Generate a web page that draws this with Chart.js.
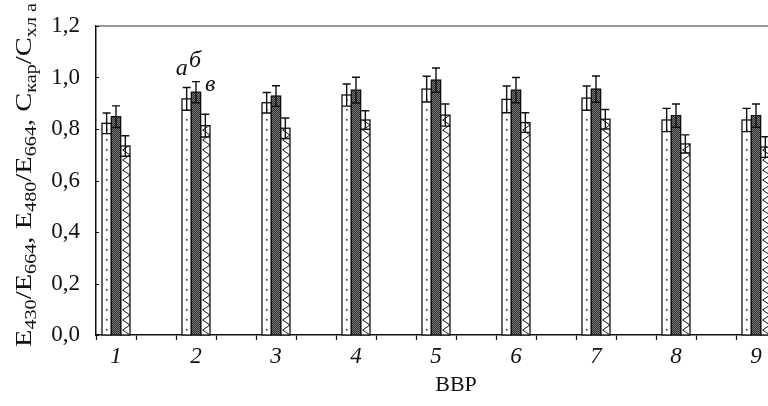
<!DOCTYPE html>
<html><head><meta charset="utf-8">
<script src="https://cdn.jsdelivr.net/npm/chart.js@4/dist/chart.umd.min.js"></script>
<style>html,body{margin:0;padding:0;overflow:hidden;background:#fff;width:768px;height:406px}canvas{display:block}</style>
</head><body><canvas id="c" width="830" height="406"></canvas>
<script>
// ---- data ----
const groups = ['1','2','3','4','5','6','7','8','9'];
const seriesA = [0.822,0.917,0.902,0.932,0.955,0.915,0.920,0.835,0.835];
const seriesB = [0.848,0.943,0.928,0.951,0.990,0.951,0.955,0.852,0.852];
const seriesC = [0.734,0.813,0.803,0.835,0.854,0.825,0.838,0.742,0.730];
const errA = [0.040,0.044,0.040,0.043,0.050,0.052,0.047,0.045,0.045];
const errB = [0.042,0.041,0.040,0.050,0.047,0.049,0.051,0.045,0.045];
const errC = [0.040,0.044,0.040,0.036,0.043,0.038,0.038,0.035,0.040];
const seriesNames = ['а','б','в'];
const yTicks = [0,0.2,0.4,0.6,0.8,1.0,1.2];
const xTitle = 'ВВР';
const yTitleParts = [['E',0],['430',1],['/E',0],['664',1],[', E',0],['480',1],['/E',0],['664',1],[', C',0],['кар',1],['/C',0],['хл a',1]];

const labels = groups.flatMap(g => [g, '']);
const spread = arr => arr.flatMap(v => [v, null]);
const errs = [errA, errB, errC].map(spread);

const SERIF = '"Liberation Serif", "Nimbus Roman", "Nimbus Roman No9 L", FreeSerif, "Noto Serif", "DejaVu Serif Condensed", serif';

const decor = {
  id: 'decor',
  afterDatasetsDraw(chart) {
    const ctx = chart.ctx;
    chart.data.datasets.forEach((ds, di) => {
      const meta = chart.getDatasetMeta(di);
      meta.data.forEach((el, i) => {
        if (ds.data[i] == null) return;
        const {x, y, base, width} = el.getProps(['x','y','base','width'], true);
        const l = x - width/2, r = x + width/2;
        ctx.save();
        ctx.beginPath(); ctx.rect(l, y, width, base - y); ctx.clip();
        if (di === 0) {
          ctx.fillStyle = '#333';
          for (let yy = base - 6; yy > y + 2; yy -= 10) {
            ctx.fillRect(Math.round(x) - 1, Math.round(yy), 1.6, 1.6);
          }
        } else if (di === 1) {
          ctx.fillStyle = '#2e2e2e';
          for (let yy = Math.floor(y); yy < base; yy += 1) {
            for (let xx = Math.floor(l) + (yy % 2); xx < r; xx += 2) {
              ctx.fillRect(xx, yy, 1, 1);
            }
          }
        } else {
          ctx.strokeStyle = '#111'; ctx.lineWidth = 1;
          ctx.beginPath();
          for (let yy = base; yy > y - 10; yy -= 10) {
            ctx.moveTo(r, yy); ctx.lineTo(l + 2, yy - 5); ctx.lineTo(r, yy - 10);
          }
          ctx.stroke();
        }
        ctx.restore();
        ctx.save();
        ctx.strokeStyle = '#111'; ctx.lineWidth = 1.3;
        ctx.strokeRect(l, y, width, base - y);
        ctx.restore();
      });
    });
    const ys = chart.scales.y;
    chart.data.datasets.forEach((ds, di) => {
      const meta = chart.getDatasetMeta(di);
      meta.data.forEach((el, i) => {
        const v = ds.data[i];
        if (v == null) return;
        const e = errs[di][i];
        const {x, width} = el.getProps(['x','width'], true);
        const top = ys.getPixelForValue(v + e), bot = ys.getPixelForValue(v - e);
        ctx.save();
        ctx.strokeStyle = '#111'; ctx.lineWidth = 1.4;
        ctx.beginPath();
        ctx.moveTo(x, top); ctx.lineTo(x, bot);
        ctx.moveTo(x - 4, top); ctx.lineTo(x + 4, top);
        ctx.moveTo(x - width/2, bot); ctx.lineTo(x + width/2, bot);
        ctx.stroke();
        ctx.restore();
      });
    });
  },
  afterDraw(chart) {
    const ctx = chart.ctx, a = chart.chartArea, ys = chart.scales.y;
    ctx.save();
    ctx.strokeStyle = '#999'; ctx.lineWidth = 2;
    ctx.beginPath(); ctx.moveTo(a.left, a.top); ctx.lineTo(chart.width, a.top); ctx.stroke();
    ctx.strokeStyle = '#111'; ctx.lineWidth = 1;
    yTicks.forEach(t => {
      const py = Math.round(ys.getPixelForValue(t)) + 0.5;
      ctx.beginPath(); ctx.moveTo(a.left, py); ctx.lineTo(a.left + 3, py); ctx.stroke();
    });
    const gi = 2;
    ctx.fillStyle = '#111';
    ctx.font = 'italic 24px ' + SERIF;
    ctx.textAlign = 'center'; ctx.textBaseline = 'alphabetic';
    const offs = [[-5, -13], [-1, -15], [5, -23]];
    chart.data.datasets.forEach((ds, di) => {
      const el = chart.getDatasetMeta(di).data[gi];
      const top = ys.getPixelForValue(ds.data[gi] + errs[di][gi]);
      ctx.fillText(seriesNames[di], el.x + offs[di][0], top + offs[di][1]);
    });
    const big = 24, small = 17;
    let total = 0;
    const widths = yTitleParts.map(([t, s]) => {
      ctx.font = (s ? small : big) + 'px ' + SERIF;
      const w = ctx.measureText(t).width; total += w; return w;
    });
    const target = 344, cx = 31, cy = 175;
    ctx.translate(cx, cy); ctx.rotate(-Math.PI/2);
    ctx.scale(target / total, 1);
    ctx.textAlign = 'left';
    let px = -total/2;
    yTitleParts.forEach(([t, s], k) => {
      ctx.font = (s ? small : big) + 'px ' + SERIF;
      ctx.fillText(t, px, s ? 5 : 0);
      px += widths[k];
    });
    ctx.restore();
  }
};

new Chart(document.getElementById('c'), {
  type: 'bar',
  data: {
    labels,
    datasets: [
      { label: seriesNames[0], data: spread(seriesA), backgroundColor: '#ffffff', borderWidth: 0 },
      { label: seriesNames[1], data: spread(seriesB), backgroundColor: '#7a7a7a', borderWidth: 0 },
      { label: seriesNames[2], data: spread(seriesC), backgroundColor: '#ffffff', borderWidth: 0 }
    ]
  },
  options: {
    responsive: false, animation: false, devicePixelRatio: 1,
    layout: { padding: { left: 0, top: 26, right: 14, bottom: 0 } },
    datasets: { bar: { categoryPercentage: 0.7, barPercentage: 1.0, grouped: true, skipNull: false } },
    plugins: { legend: { display: false }, tooltip: { enabled: false } },
    scales: {
      x: {
        offset: true,
        afterFit: s => { s.height = 71; },
        grid: { display: true, offset: true, drawOnChartArea: false, tickLength: 5, tickColor: '#111', tickWidth: 1.2 },
        border: { color: '#111', width: 1.5 },
        ticks: { autoSkip: false, maxRotation: 0, padding: 3, color: '#111', font: { family: SERIF, size: 23, style: 'italic' } },
        title: { display: true, text: xTitle, color: '#111', font: { family: SERIF, size: 22 }, padding: { top: 0, bottom: 8 } }
      },
      y: {
        min: 0, max: 1.2,
        afterFit: s => { s.width = 96; },
        afterBuildTicks: s => { s.ticks = yTicks.map(v => ({ value: v })); },
        grid: { display: false },
        border: { color: '#111', width: 1.5 },
        ticks: { padding: 8, color: '#111', font: { family: SERIF, size: 23 },
                 callback: v => Number(v).toFixed(1).replace('.', ',') }
      }
    }
  },
  plugins: [decor]
});
</script>
</body></html>
